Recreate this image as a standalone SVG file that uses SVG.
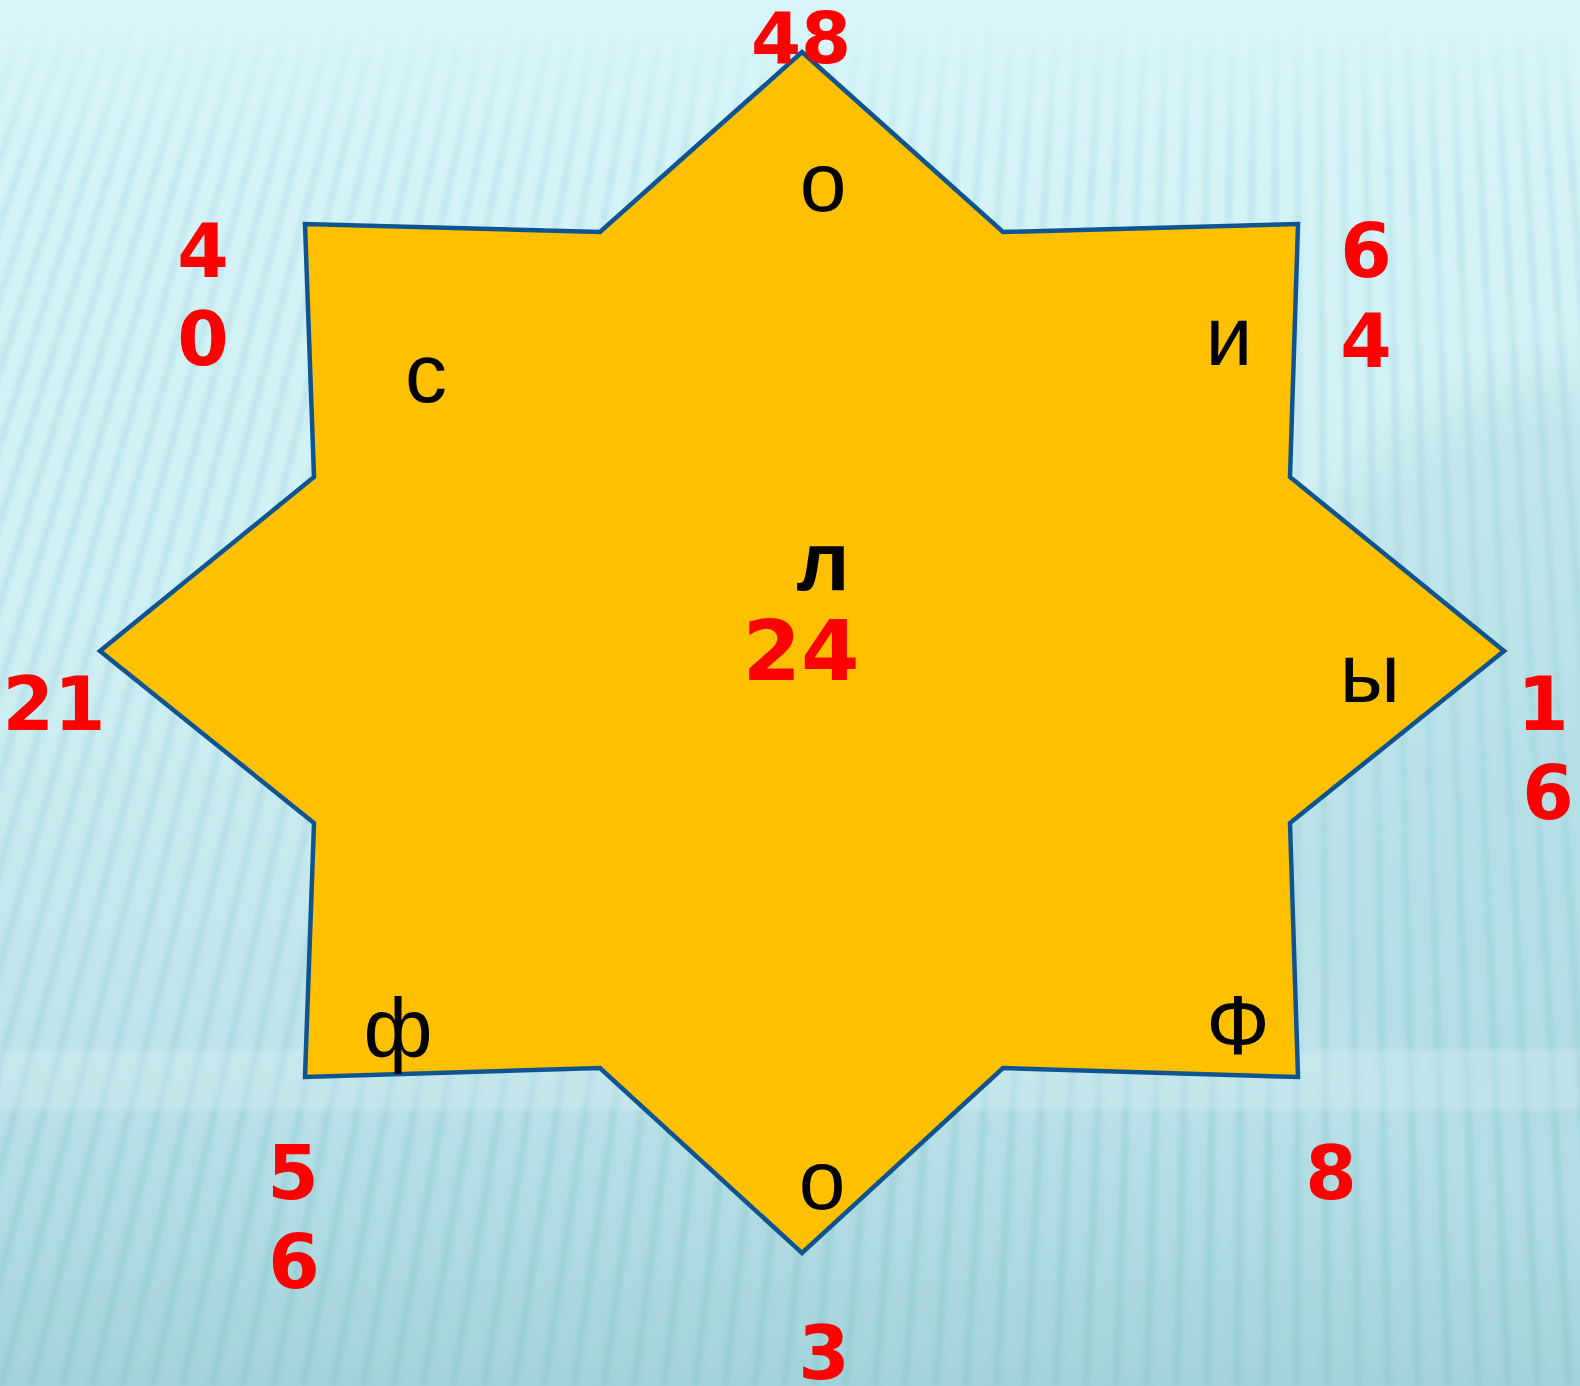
<svg xmlns="http://www.w3.org/2000/svg" width="1580" height="1386" viewBox="0 0 1580 1386">
<defs>
<linearGradient id="bg" x1="0" y1="0" x2="0" y2="1">
<stop offset="0" stop-color="#D8F5F9"/>
<stop offset="0.45" stop-color="#D0F0F4"/>
<stop offset="0.75" stop-color="#BFE4EA"/>
<stop offset="1" stop-color="#A3D3DA"/>
</linearGradient>
<linearGradient id="stripeFade" gradientUnits="userSpaceOnUse" x1="0" y1="20" x2="0" y2="1386">
<stop offset="0" stop-color="#8CC9D2" stop-opacity="0"/>
<stop offset="0.1" stop-color="#8CC9D2" stop-opacity="0.28"/>
<stop offset="0.6" stop-color="#8CC9D2" stop-opacity="0.32"/>
<stop offset="1" stop-color="#7FBFC9" stop-opacity="0.42"/>
</linearGradient>
<radialGradient id="shade" cx="0.5" cy="0.5" r="0.5">
<stop offset="0" stop-color="#9CCFD6" stop-opacity="0.45"/>
<stop offset="0.8" stop-color="#9CCFD6" stop-opacity="0.3"/>
<stop offset="1" stop-color="#9CCFD6" stop-opacity="0"/>
</radialGradient>
<filter id="soft" x="-5%" y="-5%" width="110%" height="110%"><feGaussianBlur stdDeviation="2.5"/></filter>
</defs>
<style>
.num{font-family:"DejaVu Sans",Verdana,sans-serif;font-weight:bold;font-size:74px;fill:#FF0000;text-anchor:middle}
.let{font-family:"Liberation Sans",Arial,sans-serif;font-size:84px;fill:#000000;text-anchor:middle}
.star{fill:#FFC000;stroke:#0E5491;stroke-width:4.5;stroke-linejoin:miter}
</style>
<g id="background">
<rect x="0" y="0" width="1580" height="1386" fill="url(#bg)"/>
<ellipse cx="1620" cy="760" rx="420" ry="430" fill="url(#shade)"/>
<path filter="url(#soft)" fill="none" stroke="url(#stripeFade)" stroke-width="7" d="M0 30L-481 1386M22 30L-451 1386M44 30L-421 1386M66 30L-391 1386M88 30L-360 1386M110 30L-330 1386M132 30L-300 1386M154 30L-270 1386M176 30L-240 1386M198 30L-210 1386M220 30L-180 1386M242 30L-150 1386M264 30L-119 1386M286 30L-89 1386M308 30L-59 1386M330 30L-29 1386M352 30L1 1386M374 30L31 1386M396 30L62 1386M418 30L92 1386M440 30L122 1386M462 30L152 1386M484 30L182 1386M506 30L212 1386M528 30L242 1386M550 30L273 1386M572 30L303 1386M594 30L333 1386M616 30L363 1386M638 30L393 1386M660 30L423 1386M682 30L453 1386M704 30L484 1386M726 30L514 1386M748 30L544 1386M770 30L574 1386M792 30L604 1386M814 30L634 1386M836 30L664 1386M858 30L695 1386M880 30L725 1386M902 30L755 1386M924 30L785 1386M946 30L815 1386M968 30L845 1386M990 30L875 1386M1012 30L905 1386M1034 30L936 1386M1056 30L966 1386M1078 30L996 1386M1100 30L1026 1386M1122 30L1056 1386M1144 30L1086 1386M1166 30L1116 1386M1188 30L1147 1386M1210 30L1177 1386M1232 30L1207 1386M1254 30L1237 1386M1276 30L1267 1386M1298 30L1297 1386M1320 30L1327 1386M1342 30L1358 1386M1364 30L1388 1386M1386 30L1418 1386M1408 30L1448 1386M1430 30L1478 1386M1452 30L1508 1386M1474 30L1538 1386M1496 30L1569 1386M1518 30L1599 1386M1540 30L1629 1386M1562 30L1659 1386"/>
<rect x="0" y="1050" width="1580" height="60" fill="#E2F7FA" opacity="0.25" filter="url(#soft)"/>
</g>
<g id="star">
<polygon class="star" points="802,52 1003,232 1298,224 1290,477 1504,651 1290,823 1298,1077 1003,1068 802,1253 600,1068 305,1077 314,823 100,651 314,477 305,224 600,232"/>
</g>
<g id="letters">
<text class="let" x="823" y="211">о</text>
<text class="let" x="426" y="402">с</text>
<text class="let" x="1229" y="365">и</text>
<text class="let" x="823" y="590" font-weight="bold">л</text>
<text class="let" x="1370" y="702">ы</text>
<text class="let" x="398" y="1057">ф</text>
<text class="let" x="1238" y="1054">Ф</text>
<text class="let" x="822" y="1209">о</text>
</g>
<g id="numbers">
<text class="num" x="801" y="63" style="font-size:72px">48</text>
<text class="num" x="203" y="277">4</text>
<text class="num" x="203" y="365">0</text>
<text class="num" x="1366" y="277">6</text>
<text class="num" x="1366" y="367">4</text>
<text class="num" x="54" y="730">21</text>
<text class="num" x="801" y="680" style="font-size:84px">24</text>
<text class="num" x="1543" y="730">1</text>
<text class="num" x="1548" y="819">6</text>
<text class="num" x="293" y="1199">5</text>
<text class="num" x="294" y="1288">6</text>
<text class="num" x="1331" y="1199">8</text>
<text class="num" x="824" y="1379">3</text>
</g>
</svg>
